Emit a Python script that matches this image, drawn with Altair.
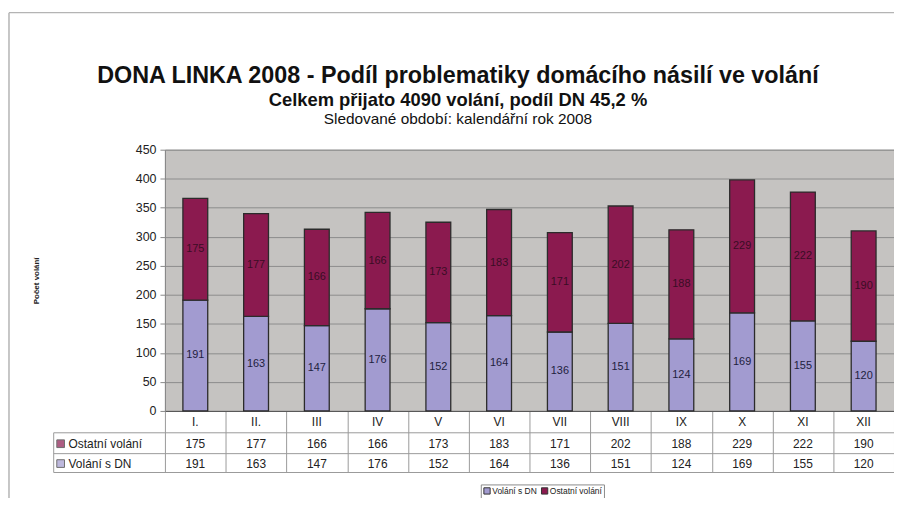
import altair as alt
import pandas as pd

# ---- data ----
months = ["I.", "II.", "III", "IV", "V", "VI", "VII", "VIII", "IX", "X", "XI", "XII"]
dn_calls = [191, 163, 147, 176, 152, 164, 136, 151, 124, 169, 155, 120]
other_calls = [175, 177, 166, 166, 173, 183, 171, 202, 188, 229, 222, 190]
series_names = ["Volání s DN", "Ostatní volání"]
series_colors = ["#a29bd0", "#8b1a4f"]
y_ticks = [0, 50, 100, 150, 200, 250, 300, 350, 400, 450]
title_1 = "DONA LINKA 2008 - Podíl problematiky domácího násilí ve volání"
title_2 = "Celkem přijato 4090 volání, podíl DN 45,2 %"
title_3 = "Sledované období: kalendářní rok 2008"
y_title = "Počet volání"

W, H = 734, 263
FONT = "Liberation Sans"

rows = []
for i, m in enumerate(months):
    rows.append({"month": m, "series": series_names[0], "value": dn_calls[i], "ord": 0})
    rows.append({"month": m, "series": series_names[1], "value": other_calls[i], "ord": 1})
df = pd.DataFrame(rows)
wide = pd.DataFrame({"month": months, "dn": dn_calls, "ost": other_calls})
one = pd.DataFrame({"a": [0]})

xenc = alt.X(
    "month:N",
    sort=months,
    scale=alt.Scale(paddingInner=0, paddingOuter=0),
    axis=alt.Axis(
        title=None, labels=False, ticks=True, tickBand="extent", tickSize=62,
        tickColor="#9a9a9a", tickWidth=1, domainColor="#555555", domainWidth=1, grid=False,
    ),
)

yscale = alt.Scale(domain=[0, 450], nice=False)
yaxis = alt.Axis(
    values=y_ticks, title=y_title, titleFontSize=8, titleFontWeight="bold",
    titleColor="#222222", titleX=-125, titleY=H / 2, titleAngle=-90,
    labelFontSize=12.5, labelColor="#222222", labelFont=FONT, labelPadding=4,
    labelOverlap=False, tickCount=10,
    tickSize=5, tickColor="#888888", domainColor="#888888",
    grid=True, gridColor="#8c8c8c", gridWidth=1,
)

base = alt.Chart(df)

bars = base.mark_bar(size=25, stroke="#2b2b2b", strokeWidth=1.3).encode(
    x=xenc,
    y=alt.Y("value:Q", stack="zero", scale=yscale, axis=yaxis),
    color=alt.Color(
        "series:N",
        scale=alt.Scale(domain=series_names, range=series_colors),
        legend=alt.Legend(
            orient="none", legendX=318, legendY=337, direction="horizontal", title=None,
            symbolType="square", symbolSize=40, symbolStrokeColor="#333333",
            symbolStrokeWidth=1, labelFontSize=8.5, labelFont=FONT, labelColor="#222222",
            strokeColor="#8a8a8a", padding=2, columnPadding=2, labelOffset=1,
        ),
    ),
    order=alt.Order("ord:Q"),
)

stacked = base.transform_stack(
    stack="value", groupby=["month"], as_=["v0", "v1"], sort=[alt.SortField("ord")]
).transform_calculate(mid="(datum.v0 + datum.v1) / 2")

lab_dn = stacked.transform_filter(alt.datum.ord == 0).mark_text(
    fontSize=11, font=FONT, color="#1e1e3e"
).encode(x=xenc, y=alt.Y("mid:Q", scale=yscale, axis=yaxis), text="value:Q")
lab_ost = stacked.transform_filter(alt.datum.ord == 1).mark_text(
    fontSize=11, font=FONT, color="#3a0d25"
).encode(x=xenc, y=alt.Y("mid:Q", scale=yscale, axis=yaxis), text="value:Q")

tab = alt.Chart(wide)
cat_row = tab.mark_text(fontSize=12, font=FONT, color="#222222").encode(
    x=xenc, y=alt.value(H + 11), text="month:N")
ost_row = tab.mark_text(fontSize=12, font=FONT, color="#222222").encode(
    x=xenc, y=alt.value(H + 33), text="ost:Q")
dn_row = tab.mark_text(fontSize=12, font=FONT, color="#222222").encode(
    x=xenc, y=alt.value(H + 53), text="dn:Q")

deco = alt.Chart(one)
lines = [
    deco.mark_rule(color="#9a9a9a", strokeWidth=1).encode(
        x=alt.value(-112), x2=alt.value(W), y=alt.value(H + 22)),
    deco.mark_rule(color="#9a9a9a", strokeWidth=1).encode(
        x=alt.value(-112), x2=alt.value(W), y=alt.value(H + 43)),
    deco.mark_rule(color="#9a9a9a", strokeWidth=1).encode(
        x=alt.value(-112), x2=alt.value(W), y=alt.value(H + 62)),
    deco.mark_rule(color="#9a9a9a", strokeWidth=1).encode(
        x=alt.value(-112), y=alt.value(H + 22), y2=alt.value(H + 62)),
    # outer frame
    deco.mark_rule(color="#b4b4b4", strokeWidth=1.5).encode(
        x=alt.value(-157), x2=alt.value(W + 10), y=alt.value(-138)),
    deco.mark_rule(color="#b4b4b4", strokeWidth=1.5).encode(
        x=alt.value(-157), y=alt.value(-138), y2=alt.value(H + 90)),
]

row_labels = [
    deco.mark_square(size=60, filled=True, color=series_colors[1], stroke="#333333", strokeWidth=1).encode(
        x=alt.value(-105), y=alt.value(H + 33)),
    deco.mark_square(size=60, filled=True, color=series_colors[0], stroke="#333333", strokeWidth=1).encode(
        x=alt.value(-105), y=alt.value(H + 53)),
    deco.mark_text(fontSize=12, font=FONT, color="#222222", align="left").encode(
        x=alt.value(-97), y=alt.value(H + 33), text=alt.value(series_names[1])),
    deco.mark_text(fontSize=12, font=FONT, color="#222222", align="left").encode(
        x=alt.value(-97), y=alt.value(H + 53), text=alt.value(series_names[0])),
]

titles = [
    deco.mark_text(fontSize=23.5, font=FONT, fontWeight="bold", color="#111111").encode(
        x=alt.value(295), y=alt.value(-74), text=alt.value(title_1)),
    deco.mark_text(fontSize=18.5, font=FONT, fontWeight="bold", color="#111111").encode(
        x=alt.value(295), y=alt.value(-50), text=alt.value(title_2)),
    deco.mark_text(fontSize=15.5, font=FONT, color="#111111").encode(
        x=alt.value(295), y=alt.value(-31), text=alt.value(title_3)),
]

chart = alt.layer(
    bars, lab_dn, lab_ost, cat_row, ost_row, dn_row, *lines, *row_labels, *titles
).properties(
    width=W, height=H,
    padding={"left": 158, "top": 141, "right": 0, "bottom": 86},
    autosize=alt.AutoSizeParams(type="none"),
    background="white",
).configure(font=FONT).configure_view(fill="#c5c3c1", stroke="#999999")

chart.save("out.html", embed_options={"renderer": "svg", "actions": False})
